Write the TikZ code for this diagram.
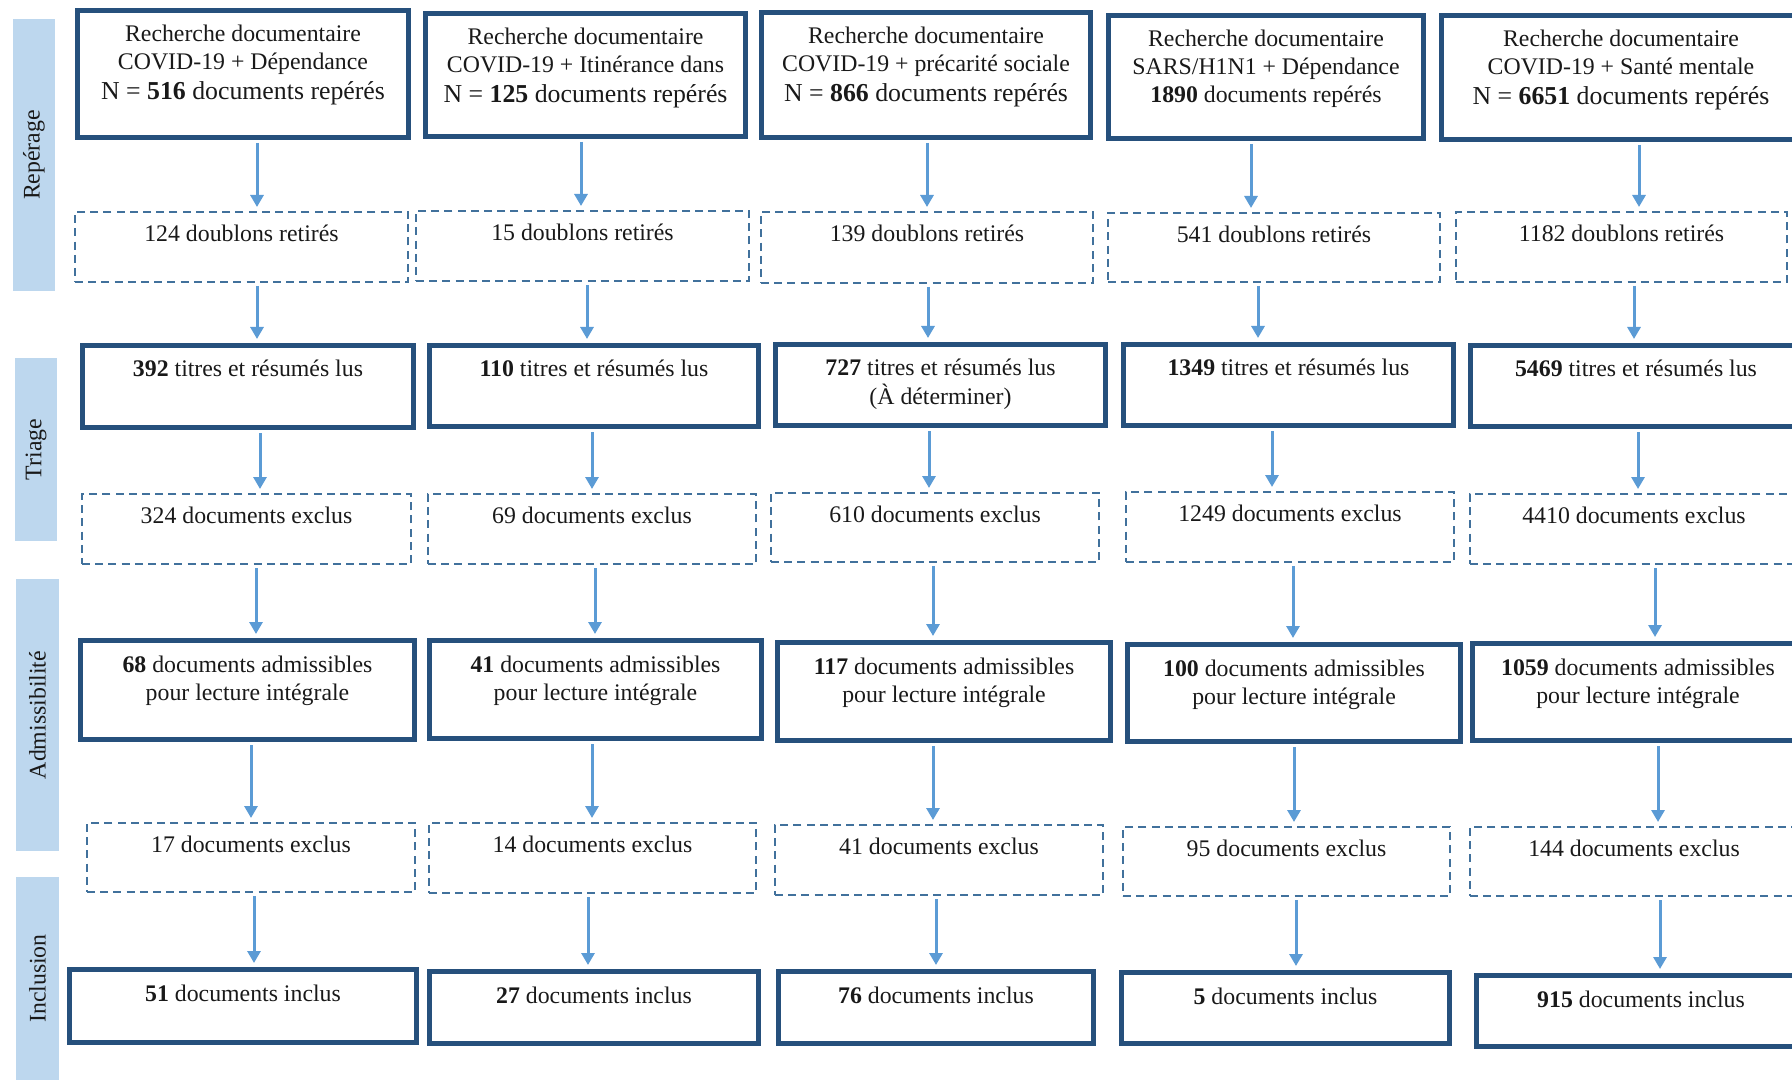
\documentclass[tikz,border=0pt]{standalone}
\usepackage{fontspec}
\setmainfont{Liberation Serif}
\usetikzlibrary{arrows.meta}
\definecolor{boxblue}{RGB}{38,80,124}
\definecolor{dashblue}{RGB}{65,113,156}
\definecolor{arrowblue}{RGB}{91,155,213}
\definecolor{labblue}{RGB}{189,215,238}
\definecolor{txt}{RGB}{25,25,25}
\tikzset{
  solidbox/.style={rectangle, draw=boxblue, line width=2.5pt, inner sep=0pt, text=txt},
  dashbox/.style={rectangle, draw=dashblue, line width=1pt, dash pattern=on 4pt off 2.6pt, inner sep=0pt, text=txt},
  sidelab/.style={rectangle, fill=labblue, inner sep=0pt, rotate=90, text=txt},
  flow/.style={draw=arrowblue, line width=1.5pt, -{Triangle[width=6.5pt,length=6pt]}, shorten <=1.5pt, shorten >=2pt},
}
\newcommand\solidbx[6]{%
  \pgfmathsetlengthmacro\bxw{(#4-#2-5)*0.5pt}%
  \pgfmathsetlengthmacro\bxh{(#5-#3-5)*0.5pt}%
  \node[solidbox] (#1) at ({(#2+#4)/2},{(#3+#5)/2}) {\parbox[c][\bxh][t]{\bxw}{\centering\rule{0pt}{15.75pt}#6}};%
}
\newcommand\dashbx[6]{%
  \pgfmathsetlengthmacro\bxw{(#4-#2-2)*0.5pt}%
  \pgfmathsetlengthmacro\bxh{(#5-#3-2)*0.5pt}%
  \node[dashbox] (#1) at ({(#2+#4)/2},{(#3+#5)/2}) {\parbox[c][\bxh][t]{\bxw}{\centering\rule{0pt}{14.75pt}#6}};%
}
\newcommand\sidebx[6]{%
  \pgfmathsetlengthmacro\bxw{(#5-#3)*0.5pt}%
  \pgfmathsetlengthmacro\bxh{(#4-#2)*0.5pt}%
  \node[sidelab, minimum width=\bxw, minimum height=\bxh] (#1) at ({(#2+#4)/2},{(#3+#5)/2}) {#6};%
}
\newcommand\nline[1]{{\fontsize{12.9}{14}\selectfont #1}}
\newcommand\arw[3]{\draw[flow] (#1.south -| #3,0) -- (#2.north -| #3,0);}
\begin{document}
\begin{tikzpicture}[x=0.5pt, y=-0.5pt, font=\fontsize{11.9}{14}\selectfont]
\useasboundingbox (0,0) rectangle (1792,1080);
\clip (0,0) rectangle (1792,1080);

% side labels
\sidebx{lab1}{13}{19}{55}{291}{Repérage}
\sidebx{lab2}{15}{358}{57}{541}{Triage}
\sidebx{lab3}{16}{579}{59}{851}{Admissibilité}
\sidebx{lab4}{16}{877}{59}{1080}{Inclusion}

% column 1
\solidbx{t1}{75}{8}{411}{140}{Recherche documentaire\\COVID-19 + Dépendance\\[1pt]\nline{N = \textbf{516} documents repérés}}
\dashbx{da1}{74}{211}{409}{283}{124 doublons retirés}
\solidbx{s1}{80}{343}{416}{430}{\textbf{392} titres et résumés lus}
\dashbx{db1}{81}{493}{412}{565}{324 documents exclus}
\solidbx{a1}{78}{638}{417}{742}{\textbf{68} documents admissibles\\pour lecture intégrale}
\dashbx{dc1}{86}{822}{416}{893}{17 documents exclus}
\solidbx{i1}{67}{967}{419}{1045}{\textbf{51} documents inclus}

% column 2
\solidbx{t2}{423}{11}{748}{139}{Recherche documentaire\\COVID-19 + Itinérance dans\\[1pt]\nline{N = \textbf{125} documents repérés}}
\dashbx{da2}{415}{210}{750}{282}{15 doublons retirés}
\solidbx{s2}{427}{343}{761}{429}{\textbf{110} titres et résumés lus}
\dashbx{db2}{427}{493}{757}{565}{69 documents exclus}
\solidbx{a2}{427}{638}{764}{741}{\textbf{41} documents admissibles\\pour lecture intégrale}
\dashbx{dc2}{428}{822}{757}{894}{14 documents exclus}
\solidbx{i2}{427}{969}{761}{1046}{\textbf{27} documents inclus}

% column 3
\solidbx{t3}{759}{10}{1093}{140}{Recherche documentaire\\COVID-19 + précarité sociale\\[1pt]\nline{N = \textbf{866} documents repérés}}
\dashbx{da3}{760}{211}{1094}{284}{139 doublons retirés}
\solidbx{s3}{773}{342}{1108}{428}{\textbf{727} titres et résumés lus\\(À déterminer)}
\dashbx{db3}{770}{492}{1100}{563}{610 documents exclus}
\solidbx{a3}{775}{640}{1113}{743}{\textbf{117} documents admissibles\\pour lecture intégrale}
\dashbx{dc3}{774}{824}{1104}{896}{41 documents exclus}
\solidbx{i3}{776}{969}{1096}{1046}{\textbf{76} documents inclus}

% column 4
\solidbx{t4}{1106}{13}{1426}{141}{Recherche documentaire\\SARS/H1N1 + Dépendance\\\textbf{1890} documents repérés}
\dashbx{da4}{1107}{212}{1441}{283}{541 doublons retirés}
\solidbx{s4}{1121}{342}{1456}{428}{\textbf{1349} titres et résumés lus}
\dashbx{db4}{1125}{491}{1455}{563}{1249 documents exclus}
\solidbx{a4}{1125}{642}{1463}{744}{\textbf{100} documents admissibles\\pour lecture intégrale}
\dashbx{dc4}{1122}{826}{1451}{897}{95 documents exclus}
\solidbx{i4}{1119}{970}{1452}{1046}{\textbf{5} documents inclus}

% column 5
\solidbx{t5}{1439}{13}{1803}{142}{Recherche documentaire\\COVID-19 + Santé mentale\\[1pt]\nline{N = \textbf{6651} documents repérés}}
\dashbx{da5}{1455}{211}{1788}{283}{1182 doublons retirés}
\solidbx{s5}{1468}{343}{1804}{429}{\textbf{5469} titres et résumés lus}
\dashbx{db5}{1469}{493}{1799}{565}{4410 documents exclus}
\solidbx{a5}{1470}{641}{1806}{743}{\textbf{1059} documents admissibles\\pour lecture intégrale}
\dashbx{dc5}{1469}{826}{1799}{897}{144 documents exclus}
\solidbx{i5}{1474}{973}{1808}{1049}{\textbf{915} documents inclus}

% arrows
\arw{t1}{da1}{257} \arw{da1}{s1}{257} \arw{s1}{db1}{260} \arw{db1}{a1}{256} \arw{a1}{dc1}{251} \arw{dc1}{i1}{254}
\arw{t2}{da2}{581} \arw{da2}{s2}{587} \arw{s2}{db2}{592} \arw{db2}{a2}{595} \arw{a2}{dc2}{592} \arw{dc2}{i2}{588}
\arw{t3}{da3}{927} \arw{da3}{s3}{928} \arw{s3}{db3}{929} \arw{db3}{a3}{933} \arw{a3}{dc3}{933} \arw{dc3}{i3}{936}
\arw{t4}{da4}{1251} \arw{da4}{s4}{1258} \arw{s4}{db4}{1272} \arw{db4}{a4}{1293} \arw{a4}{dc4}{1294} \arw{dc4}{i4}{1296}
\arw{t5}{da5}{1639} \arw{da5}{s5}{1634} \arw{s5}{db5}{1638} \arw{db5}{a5}{1655} \arw{a5}{dc5}{1658} \arw{dc5}{i5}{1660}
\end{tikzpicture}
\end{document}
